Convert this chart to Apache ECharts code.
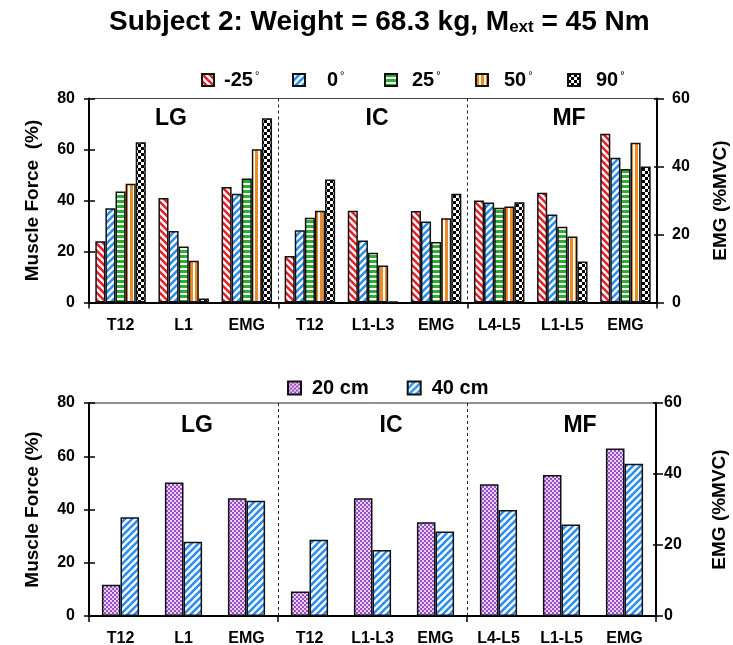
<!DOCTYPE html>
<html>
<head>
<meta charset="utf-8">
<script src="https://cdn.jsdelivr.net/npm/echarts@6/dist/echarts.min.js"></script>
<style>
  html, body { margin: 0; padding: 0; background: #fff; }
  #chart { width: 733px; height: 645px; }
</style>
</head>
<body>
<div id="chart"></div>
<script>
// ---- data ----
const categories = ['T12', 'L1', 'EMG', 'T12', 'L1-L3', 'EMG', 'L4-L5', 'L1-L5', 'EMG'];
const emgSlots = [2, 5, 8];          // category indices drawn against the EMG axis
const groupLabels = ['LG', 'IC', 'MF'];

// Flexion angle series: muscle force (%) at the six force categories
const angleNames = ['-25', '0', '25', '50', '90'];
const forceNeg25 = [24, 41, 18.2, 36, 40, 43];
const force0     = [37, 28, 28.3, 24.3, 39.2, 34.5];
const force25    = [43.5, 22, 33.2, 19.5, 37.2, 29.7];
const force50    = [46.6, 16.4, 36, 14.5, 37.6, 25.9];
const force90    = [62.8, 1.6, 48.2, 0.3, 39.3, 16.1];
// EMG (%MVC) for LG, IC, MF
const emgNeg25 = [34.0, 26.9, 49.6];
const emg0     = [32.0, 23.8, 42.6];
const emg25    = [36.5, 17.8, 39.3];
const emg50    = [45.1, 24.8, 47.0];
const emg90    = [54.2, 32.0, 40.0];

// Load height series
const heightNames = ['20 cm', '40 cm'];
const force20cm = [11.7, 50.1, 9.2, 44.2, 49.5, 53];
const force40cm = [37.1, 27.9, 28.6, 24.8, 39.8, 34.4];
const emg20cm = [33.2, 26.4, 47.2];
const emg40cm = [32.5, 23.8, 42.9];

const leftTicks = [0, 20, 40, 60, 80];
const rightTicks = [0, 20, 40, 60];

// ---- fill patterns ----
function makeCanvas(w, h) {
  const c = document.createElement('canvas');
  c.width = w; c.height = h;
  const ctx = c.getContext('2d');
  ctx.fillStyle = '#fff';
  ctx.fillRect(0, 0, w, h);
  return [c, ctx];
}
function diagonal(color, size, lw, forward) {
  const [c, ctx] = makeCanvas(size, size);
  ctx.strokeStyle = color;
  ctx.lineWidth = lw;
  ctx.lineCap = 'square';
  for (const k of [-size, 0, size]) {
    ctx.beginPath();
    if (forward) { ctx.moveTo(k, size); ctx.lineTo(k + size, 0); }
    else { ctx.moveTo(k, 0); ctx.lineTo(k + size, size); }
    ctx.stroke();
  }
  return { image: c, repeat: 'repeat' };
}
function horizontal(color, period, thick) {
  const [c, ctx] = makeCanvas(4, period);
  ctx.fillStyle = color;
  ctx.fillRect(0, 0, 4, thick);
  return { image: c, repeat: 'repeat' };
}
function vertical(color, period, thick) {
  const [c, ctx] = makeCanvas(period, 4);
  ctx.fillStyle = color;
  ctx.fillRect(0, 0, thick, 4);
  return { image: c, repeat: 'repeat' };
}
function checker(a, b, cell) {
  const [c, ctx] = makeCanvas(cell * 2, cell * 2);
  ctx.fillStyle = b; ctx.fillRect(0, 0, cell * 2, cell * 2);
  ctx.fillStyle = a;
  ctx.fillRect(0, 0, cell, cell);
  ctx.fillRect(cell, cell, cell, cell);
  return { image: c, repeat: 'repeat' };
}

const anglePatterns = [
  diagonal('#e8202a', 7, 2.6, false),
  diagonal('#2b8ef0', 7, 2.6, true),
  horizontal('#28b030', 5, 3),
  vertical('#f08a24', 5, 3),
  checker('#000', '#fff', 3)
];
const heightPatterns = [
  checker('#9a4cc6', '#e6d2f2', 2),
  diagonal('#2b8ef0', 7, 2.6, true)
];

// ---- helpers ----
const FONT = '"Liberation Sans", Arial, sans-serif';
const groupStart = i => i % 3 === 0;

function toSlots(forceVals, emgVals, forEmg) {
  const out = [];
  let f = 0, e = 0;
  for (let i = 0; i < categories.length; i++) {
    if (emgSlots.includes(i)) { out.push(forEmg ? emgVals[e] : '-'); e++; }
    else { out.push(forEmg ? '-' : forceVals[f]); f++; }
  }
  return out;
}

function xAxes(grid, visible) {
  const base = { gridIndex: grid, type: 'category', data: categories };
  if (!visible) return Object.assign(base, { show: false });
  return Object.assign(base, {
    axisLine: { lineStyle: { color: '#000', width: 2 } },
    axisTick: { show: true, interval: groupStart, length: 6, lineStyle: { color: '#000', width: 1.5 } },
    axisLabel: { interval: 0, color: '#000', fontWeight: 'bold', fontSize: 16, fontFamily: FONT, margin: 15 },
    splitLine: { show: true, interval: groupStart, lineStyle: { color: '#222', width: 1, type: [3, 3] } }
  });
}

function yAxis(grid, side, ticks, name, gap, labelMargin, tickOut) {
  return {
    gridIndex: grid, type: 'value', position: side,
    min: ticks[0], max: ticks[ticks.length - 1], interval: ticks[1] - ticks[0],
    name: name, nameLocation: 'middle', nameGap: gap, nameRotate: 90,
    nameTextStyle: { color: '#000', fontWeight: 'bold', fontSize: 19, fontFamily: FONT },
    axisLine: { show: true, lineStyle: { color: '#000', width: 2 } },
    axisTick: { show: true, length: tickOut, lineStyle: { color: '#000', width: 1.5 } },
    axisLabel: { color: '#000', fontWeight: 'bold', fontSize: 16, fontFamily: FONT, margin: labelMargin },
    splitLine: { show: false }
  };
}
// companion axis carrying only the inner half of the crossing tick marks
function innerTicks(grid, side, ticks, len) {
  return {
    gridIndex: grid, type: 'value', position: side,
    min: ticks[0], max: ticks[ticks.length - 1], interval: ticks[1] - ticks[0],
    axisLine: { show: false }, axisLabel: { show: false }, splitLine: { show: false },
    axisTick: { show: true, inside: true, length: len, lineStyle: { color: '#000', width: 1.5 } }
  };
}

function barSeries(name, pattern, data, xi, yi, gapCat) {
  return {
    type: 'bar', name: name, xAxisIndex: xi, yAxisIndex: yi, data: data,
    barGap: '0%', barCategoryGap: gapCat,
    itemStyle: { color: pattern, borderColor: '#111', borderWidth: 1.5 },
    emphasis: { disabled: true },
    animation: false
  };
}

const angleForce = [forceNeg25, force0, force25, force50, force90];
const angleEmg = [emgNeg25, emg0, emg25, emg50, emg90];
const heightForce = [force20cm, force40cm];
const heightEmg = [emg20cm, emg40cm];

const series = [];
angleNames.forEach((n, i) => {
  series.push(barSeries(n, anglePatterns[i], toSlots(angleForce[i], angleEmg[i], false), 0, 0, '20%'));
  series.push(barSeries(n, anglePatterns[i], toSlots(angleForce[i], angleEmg[i], true), 1, 1, '20%'));
});
heightNames.forEach((n, i) => {
  series.push(barSeries(n, heightPatterns[i], toSlots(heightForce[i], heightEmg[i], false), 2, 2, '41%'));
  series.push(barSeries(n, heightPatterns[i], toSlots(heightForce[i], heightEmg[i], true), 3, 3, '41%'));
});

function groupText(label, x, y) {
  return {
    type: 'text', x: x, y: y, silent: true,
    style: { text: label, fill: '#000', font: 'bold 23px ' + FONT, align: 'center', verticalAlign: 'middle' }
  };
}

// one legend box per angle so each entry keeps its own slot
const angleLegendLeft = [201, 292, 384, 475, 567];
const angleLegendPad = [5, 17, 10, 11, 11];
const angleLegends = angleNames.map((n, i) => ({
  data: [n], left: angleLegendLeft[i], top: 70, padding: 0,
  itemWidth: 12, itemHeight: 12, icon: 'rect',
  formatter: name => '{a|' + name + '}{d|°}',
  textStyle: {
    padding: [0, 0, 0, angleLegendPad[i]],
    rich: {
      a: { fontSize: 20, fontWeight: 'bold', color: '#000', fontFamily: FONT },
      d: { fontSize: 11, color: '#000', fontFamily: FONT, verticalAlign: 'top', padding: [0, 0, 8, 2] }
    }
  }
}));

const option = {
  backgroundColor: '#fff',
  animation: false,
  title: {
    text: '{a|Subject 2: Weight = 68.3 kg, M}{s|ext}{a| = 45 Nm}',
    left: 104, top: 3,
    textStyle: {
      rich: {
        a: { fontSize: 28, fontWeight: 'bold', color: '#000', fontFamily: FONT },
        s: { fontSize: 17, fontWeight: 'bold', color: '#000', fontFamily: FONT, verticalAlign: 'bottom', padding: [11, 0, 0, 0] }
      }
    }
  },
  legend: angleLegends.concat([
    {
      data: heightNames, left: 287, top: 378, padding: 0, itemWidth: 13, itemHeight: 13, itemGap: 38,
      icon: 'rect',
      textStyle: { fontSize: 20, fontWeight: 'bold', color: '#000', fontFamily: FONT, padding: [0, 0, 0, 6] }
    }
  ]),
  grid: [
    { left: 89, top: 98.5, width: 568, height: 204, outerBoundsMode: 'none', containLabel: false,
      show: true, borderColor: '#444', borderWidth: 1, backgroundColor: 'transparent' },
    { left: 89, top: 403, width: 567, height: 213, outerBoundsMode: 'none', containLabel: false,
      show: true, borderColor: '#222', borderWidth: 1, backgroundColor: 'transparent' }
  ],
  xAxis: [xAxes(0, true), xAxes(0, false), xAxes(1, true), xAxes(1, false)],
  yAxis: [
    yAxis(0, 'left', leftTicks, 'Muscle Force  (%)', 47, 14, 5),
    yAxis(0, 'right', rightTicks, 'EMG (%MVC)', 54, 15, 7),
    yAxis(1, 'left', leftTicks, 'Muscle Force (%)', 47, 14, 5),
    yAxis(1, 'right', rightTicks, 'EMG (%MVC)', 54, 8, 7),
    innerTicks(0, 'left', leftTicks, 6),
    innerTicks(0, 'right', rightTicks, 3),
    innerTicks(1, 'left', leftTicks, 6),
    innerTicks(1, 'right', rightTicks, 3)
  ],
  series: series,
  graphic: [
    groupText(groupLabels[0], 171, 119),
    groupText(groupLabels[1], 377, 119),
    groupText(groupLabels[2], 569, 119),
    groupText(groupLabels[0], 197, 426),
    groupText(groupLabels[1], 391, 426),
    groupText(groupLabels[2], 580, 426)
  ]
};

const chart = echarts.init(document.getElementById('chart'), null, { renderer: 'canvas' });
chart.setOption(option);
</script>
</body>
</html>
